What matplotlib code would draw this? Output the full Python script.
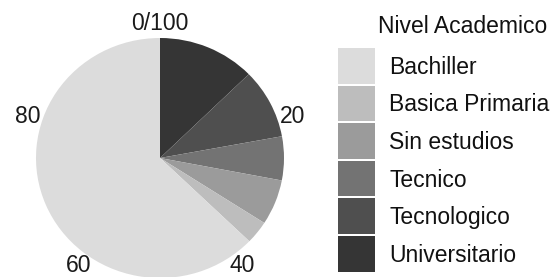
import numpy as np
import matplotlib
matplotlib.use("Agg")
import matplotlib.pyplot as plt
from matplotlib.patches import Rectangle

categories = ["Bachiller", "Basica Primaria", "Sin estudios", "Tecnico", "Tecnologico", "Universitario"]
values = [62.8, 3.1, 6.1, 5.9, 9.4, 12.7]
colors = ["#DCDCDC", "#BDBDBD", "#9B9B9B", "#737373", "#4F4F4F", "#353535"]
tick_values = [0, 20, 40, 60, 80]
tick_labels = ["0/100", "20", "40", "60", "80"]
legend_title = "Nivel Academico"

plt.rcParams['font.family'] = ['Liberation Sans', 'DejaVu Sans']
FS = 16.5

W, H = 551, 277
fig = plt.figure(figsize=(W / 100, H / 100), dpi=100)

# Pie axes: data units; x in pixels, y scaled slightly (pie is a bit wider than tall)
ax = fig.add_axes([0, 0, 1, 1])
sy = 120 / 124.0  # pixels per data unit vertically
cx, cy_px, R = 160, 158, 124
cy = (H - cy_px) / sy
ax.pie(values[::-1], colors=colors[::-1], startangle=90, counterclock=False,
       center=(cx, cy), radius=R, wedgeprops=dict(linewidth=0))
ax.set_aspect('auto')
ax.set_xlim(0, W)
ax.set_ylim(0, H / sy)
ax.axis('off')

# Overlay axes in pixel coordinates for text and legend
ov = fig.add_axes([0, 0, 1, 1])
ov.set_xlim(0, W)
ov.set_ylim(H, 0)
ov.axis('off')

total = sum(values)
RLx, RLy = 139, 135
for tv, tl in zip(tick_values, tick_labels):
    th = np.deg2rad(tv / total * 360)
    x = cx + RLx * np.sin(th)
    yb = min(cy_px - RLy * np.cos(th) + 7, 272)
    ov.text(x, yb, tl, ha='center', va='baseline', fontsize=FS, color='#1a1a1a')

# Legend
ov.text(378, 33, legend_title, ha='left', va='baseline', fontsize=FS, color='#111111')
key_x, key_w, key_h, pitch, top = 338, 37, 35.5, 37.6, 48
for i, (cat, col) in enumerate(zip(categories, colors)):
    y0 = top + i * pitch
    ov.add_patch(Rectangle((key_x, y0), key_w, key_h, facecolor=col, edgecolor='none'))
    ov.text(389, y0 + key_h / 2 + 8, cat, ha='left', va='baseline', fontsize=FS, color='#111111')

fig.savefig("out.png", dpi=100)
